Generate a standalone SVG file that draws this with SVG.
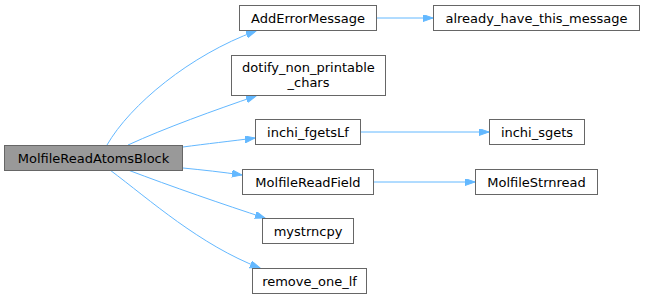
<svg xmlns="http://www.w3.org/2000/svg" width="645" height="299" viewBox="0 0 645 299">
<style>
.box{fill:#ffffff;stroke:#666666;stroke-width:1}
.main{fill:#999999;stroke:#666666;stroke-width:1}
text{font-family:"DejaVu Sans","Liberation Sans",sans-serif;font-size:13px;fill:#000000;text-anchor:middle}
.edge{fill:none;stroke:#63b8ff;stroke-width:1}
</style>
<defs>
<marker id="arr" markerUnits="userSpaceOnUse" markerWidth="11" markerHeight="8" refX="10" refY="3.5" orient="auto">
<path d="M0,0 L10,3.5 L0,7 z" fill="#63b8ff" stroke="#63b8ff"/>
</marker>
</defs>
<g id="edges">
<path class="edge" marker-end="url(#arr)" d="M107,145 C130,105 190,55 256,31"/>
<path class="edge" marker-end="url(#arr)" d="M128,145 C165,128 215,110 256,96"/>
<path class="edge" marker-end="url(#arr)" d="M183,147 C205,144 232,141 255,138"/>
<path class="edge" marker-end="url(#arr)" d="M183,168 C203,170 222,172 242,175"/>
<path class="edge" marker-end="url(#arr)" d="M128,170 C170,186 225,205 265,218"/>
<path class="edge" marker-end="url(#arr)" d="M110,170 C150,200 200,245 260,268"/>
<path class="edge" marker-end="url(#arr)" d="M377,18 L433,18"/>
<path class="edge" marker-end="url(#arr)" d="M361,132 L489,132"/>
<path class="edge" marker-end="url(#arr)" d="M374,182 L475,182"/>
</g>
<g id="MolfileReadAtomsBlock">
<rect class="main" x="4.5" y="145.5" width="178" height="25"/>
<text x="93.5" y="162.5">MolfileReadAtomsBlock</text>
</g>
<g id="AddErrorMessage">
<rect class="box" x="239.5" y="5.5" width="137" height="25"/>
<text x="308" y="22.5">AddErrorMessage</text>
</g>
<g id="already_have_this_message">
<rect class="box" x="433.5" y="5.5" width="206" height="25"/>
<text x="536.5" y="22.5">already_have_this_message</text>
</g>
<g id="dotify_non_printable_chars">
<rect class="box" x="231.5" y="55.5" width="154" height="40"/>
<text x="308.5" y="72">dotify_non_printable</text>
<text x="308.5" y="87">_chars</text>
</g>
<g id="inchi_fgetsLf">
<rect class="box" x="255.5" y="119.5" width="105" height="25"/>
<text x="308" y="136.5">inchi_fgetsLf</text>
</g>
<g id="inchi_sgets">
<rect class="box" x="489.5" y="119.5" width="95" height="25"/>
<text x="537" y="136.5">inchi_sgets</text>
</g>
<g id="MolfileReadField">
<rect class="box" x="242.5" y="169.5" width="131" height="25"/>
<text x="308" y="186.5">MolfileReadField</text>
</g>
<g id="MolfileStrnread">
<rect class="box" x="475.5" y="169.5" width="122" height="25"/>
<text x="536.5" y="186.5">MolfileStrnread</text>
</g>
<g id="mystrncpy">
<rect class="box" x="262.5" y="218.5" width="91" height="25"/>
<text x="308" y="235.5">mystrncpy</text>
</g>
<g id="remove_one_lf">
<rect class="box" x="252.5" y="268.5" width="114" height="25"/>
<text x="309.5" y="285.5">remove_one_lf</text>
</g>
</svg>
